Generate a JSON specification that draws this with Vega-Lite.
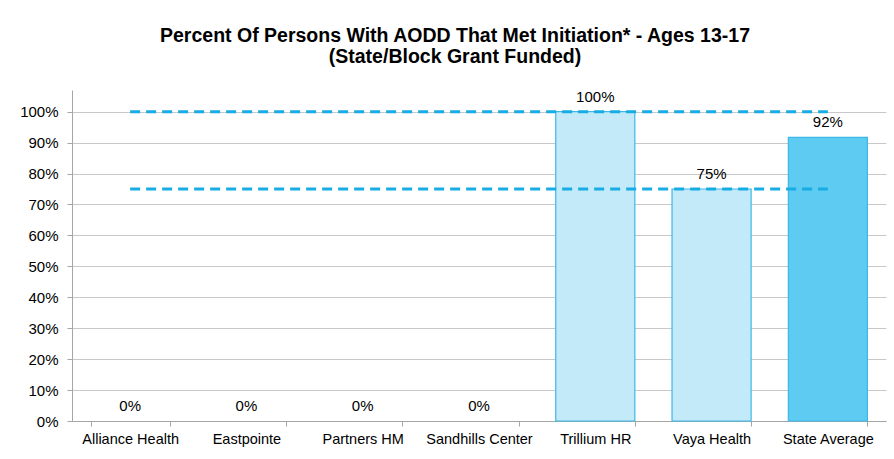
{
  "$schema": "https://vega.github.io/schema/vega-lite/v6.json",
  "autosize": {"type": "none"},
  "width": 814,
  "height": 331,
  "padding": {"left": 72, "top": 90, "right": 8, "bottom": 38},
  "background": "white",
  "title": {
    "text": ["Percent Of Persons With AODD That Met Initiation* - Ages 13-17", "(State/Block Grant Funded)"],
    "font": "Liberation Sans",
    "fontSize": 19.5,
    "fontWeight": "bold",
    "color": "#000000",
    "lineHeight": 21,
    "anchor": "middle",
    "dx": -24,
    "offset": 22
  },
  "datasets": {
    "bars": [
      {"org": "Alliance Health", "pct": 0, "group": "LME"},
      {"org": "Eastpointe", "pct": 0, "group": "LME"},
      {"org": "Partners HM", "pct": 0, "group": "LME"},
      {"org": "Sandhills Center", "pct": 0, "group": "LME"},
      {"org": "Trillium HR", "pct": 1.0, "group": "LME"},
      {"org": "Vaya Health", "pct": 0.75, "group": "LME"},
      {"org": "State Average", "pct": 0.9167, "group": "State"}
    ],
    "targets": [
      {"org": "Alliance Health", "end": "State Average", "pct": 1.0},
      {"org": "Alliance Health", "end": "State Average", "pct": 0.75}
    ]
  },
  "config": {
    "view": {"stroke": null},
    "axis": {"labelFont": "Liberation Sans", "labelColor": "#000000", "titleFont": "Liberation Sans"},
    "text": {"font": "Liberation Sans"}
  },
  "encoding": {
    "x": {
      "field": "org", "type": "nominal", "sort": null,
      "scale": {
        "domain": ["Alliance Health", "Eastpointe", "Partners HM", "Sandhills Center", "Trillium HR", "Vaya Health", "State Average"],
        "paddingInner": 0.32, "paddingOuter": 0.16
      },
      "axis": {
        "title": null, "labelAngle": 0, "labelFontSize": 14.5, "labelPadding": 6,
        "tickBand": "extent", "ticks": true, "tickSize": 5, "tickColor": "#A6A6A6",
        "domainColor": "#A6A6A6", "grid": false
      }
    },
    "y": {
      "field": "pct", "type": "quantitative",
      "scale": {"domain": [0, 1.07], "nice": false},
      "axis": {
        "title": null, "format": ".0%", "values": [0, 0.1, 0.2, 0.3, 0.4, 0.5, 0.6, 0.7, 0.8, 0.9, 1.0],
        "labelOverlap": false, "labelFontSize": 15, "labelPadding": 9, "tickSize": 5, "tickColor": "#A6A6A6",
        "domainColor": "#A6A6A6", "gridColor": "#C8C8C8", "grid": true
      }
    }
  },
  "layer": [
    {
      "data": {"name": "bars"},
      "mark": {"type": "bar", "strokeWidth": 1.2, "stroke": "#3DB8E6"},
      "encoding": {
        "color": {
          "field": "group", "type": "nominal",
          "scale": {"domain": ["LME", "State"], "range": ["#C3EAF9", "#5ECBF3"]},
          "legend": null
        },
        "strokeOpacity": {"condition": {"test": "datum.pct <= 0", "value": 0}, "value": 1}
      }
    },
    {
      "data": {"name": "targets"},
      "mark": {"type": "rule", "color": "#17ACE3", "strokeWidth": 3, "strokeDash": [10, 6]},
      "encoding": {
        "x2": {"field": "end"}
      }
    },
    {
      "data": {"name": "bars"},
      "mark": {"type": "text", "baseline": "bottom", "dy": -7, "fontSize": 15, "color": "#000000"},
      "encoding": {
        "text": {"field": "pct", "type": "quantitative", "format": ".0%"}
      }
    }
  ]
}
